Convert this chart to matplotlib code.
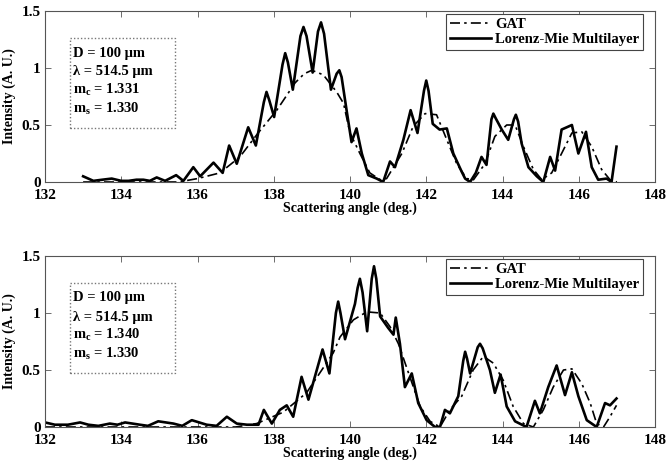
import matplotlib
matplotlib.use("Agg")
import matplotlib.pyplot as plt
from matplotlib.patches import Rectangle

plt.rcParams['font.family'] = ['Liberation Serif', 'DejaVu Serif']
plt.rcParams['font.weight'] = 'bold'
plt.rcParams['mathtext.fontset'] = 'custom'
plt.rcParams['mathtext.rm'] = 'Liberation Serif:bold'
plt.rcParams['mathtext.it'] = 'Liberation Serif:bold'
plt.rcParams['mathtext.bf'] = 'Liberation Serif:bold'

# ---------------- data: top panel (mc = 1.331) ----------------
top_mie_x = [133.0, 133.27, 133.5, 133.75, 134.0, 134.19, 134.4, 134.58, 134.75, 134.93,
             135.15, 135.44, 135.63, 135.89, 136.07, 136.42, 136.66, 136.83, 137.03, 137.33,
             137.53, 137.74, 137.81, 137.88, 138.01, 138.23, 138.30, 138.37, 138.50, 138.70,
             138.78, 138.86, 139.02, 139.16, 139.24, 139.32, 139.50, 139.65, 139.72, 139.78,
             139.91, 140.04, 140.17, 140.31, 140.48, 140.70, 140.87, 141.05, 141.18, 141.40,
             141.59, 141.77, 141.94, 142.00, 142.06, 142.17, 142.35, 142.54, 142.71, 142.93,
             143.02, 143.15, 143.30, 143.45, 143.58, 143.71, 143.76, 143.82, 143.98, 144.15,
             144.30, 144.35, 144.41, 144.50, 144.68, 144.90, 145.07, 145.25, 145.38, 145.55,
             145.82, 145.99, 146.19, 146.34, 146.51, 146.73, 146.86, 146.99]
top_mie_y = [0.05, 0.01, 0.02, 0.03, 0.01, 0.01, 0.02, 0.02, 0.01, 0.04,
             0.01, 0.06, 0.01, 0.13, 0.05, 0.17, 0.08, 0.32, 0.16, 0.48,
             0.32, 0.70, 0.79, 0.72, 0.57, 1.03, 1.13, 1.05, 0.81, 1.28,
             1.36, 1.28, 0.96, 1.32, 1.40, 1.30, 0.81, 0.95, 0.98, 0.92,
             0.63, 0.35, 0.47, 0.25, 0.06, 0.03, 0.0, 0.18, 0.13, 0.37,
             0.63, 0.43, 0.80, 0.89, 0.80, 0.51, 0.46, 0.47, 0.25, 0.09,
             0.03, 0.0, 0.08, 0.22, 0.15, 0.55, 0.60, 0.56, 0.46, 0.37,
             0.55, 0.59, 0.53, 0.34, 0.13, 0.05, 0.0, 0.22, 0.10, 0.46,
             0.50, 0.25, 0.44, 0.13, 0.02, 0.03, 0.0, 0.31]
top_gat_x = [133.0, 135.5, 136.0, 136.59, 137.11, 137.59, 138.08, 138.56, 138.8, 139.0,
             139.30, 139.65, 139.83, 140.0, 140.26, 140.52, 140.79, 140.96, 141.36, 141.66,
             141.97, 142.27, 142.54, 142.80, 143.06, 143.24, 143.54, 143.80, 144.11, 144.33,
             144.55, 144.81, 145.03, 145.29, 145.55, 145.82, 146.08, 146.34, 146.60, 146.82,
             147.0]
top_gat_y = [0.0, 0.0, 0.03, 0.08, 0.22, 0.43, 0.63, 0.87, 0.95, 0.98,
             0.94, 0.79, 0.69, 0.43, 0.25, 0.08, 0.02, 0.03, 0.25, 0.49,
             0.60, 0.59, 0.37, 0.16, 0.03, 0.02, 0.16, 0.40, 0.50, 0.50,
             0.31, 0.11, 0.02, 0.08, 0.25, 0.43, 0.44, 0.31, 0.11, 0.02,
             0.0]

# ---------------- data: bottom panel (mc = 1.340) ----------------
bot_mie_x = [132.0, 132.26, 132.6, 132.92, 133.14, 133.4, 133.70, 133.9, 134.10, 134.49,
             134.7, 134.97, 135.37, 135.6, 135.85, 136.24, 136.5, 136.77, 137.03, 137.3,
             137.60, 137.74, 137.95, 138.16, 138.34, 138.51, 138.73, 138.91, 139.28, 139.46,
             139.63, 139.69, 139.75, 139.87, 140.13, 140.20, 140.26, 140.33, 140.45, 140.57,
             140.63, 140.69, 140.79, 141.0, 141.14, 141.20, 141.31, 141.44, 141.62, 141.79,
             142.01, 142.23, 142.36, 142.49, 142.62, 142.84, 142.97, 143.02, 143.07, 143.15,
             143.35, 143.41, 143.48, 143.67, 143.80, 143.95, 144.11, 144.33, 144.63, 144.85,
             144.98, 145.20, 145.42, 145.64, 145.82, 145.99, 146.21, 146.47, 146.69, 146.82,
             146.99]
bot_mie_y = [0.04, 0.02, 0.02, 0.04, 0.02, 0.01, 0.03, 0.02, 0.04, 0.02,
             0.01, 0.05, 0.03, 0.01, 0.06, 0.02, 0.01, 0.09, 0.03, 0.02,
             0.02, 0.15, 0.03, 0.15, 0.19, 0.09, 0.44, 0.24, 0.68, 0.47,
             1.00, 1.10, 1.00, 0.77, 1.08, 1.22, 1.30, 1.18, 0.84, 1.30,
             1.41, 1.30, 0.97, 0.87, 0.81, 0.96, 0.73, 0.35, 0.47, 0.21,
             0.06, 0.0, 0.0, 0.15, 0.12, 0.27, 0.58, 0.66, 0.60, 0.47,
             0.70, 0.73, 0.69, 0.50, 0.30, 0.46, 0.18, 0.05, 0.0, 0.23,
             0.12, 0.35, 0.54, 0.28, 0.48, 0.27, 0.06, 0.0, 0.21, 0.19,
             0.25]
bot_gat_x = [132.0, 137.0, 137.55, 138.25, 138.86, 139.56, 139.74, 140.09, 140.44, 140.79,
             141.05, 141.27, 141.57, 141.84, 142.10, 142.36, 142.62, 142.93, 143.23, 143.50,
             143.76, 144.02, 144.28, 144.55, 144.81, 145.07, 145.33, 145.60, 145.82, 146.08,
             146.30, 146.47, 146.65, 146.82, 146.99]
bot_gat_y = [0.0, 0.0, 0.03, 0.13, 0.30, 0.65, 0.79, 0.94, 1.01, 1.0,
             0.88, 0.73, 0.44, 0.18, 0.05, 0.0, 0.15, 0.27, 0.50, 0.62,
             0.56, 0.41, 0.18, 0.03, 0.0, 0.15, 0.35, 0.50, 0.51, 0.38,
             0.21, 0.03, 0.0, 0.09, 0.19]

x_ticks = [132, 134, 136, 138, 140, 142, 144, 146, 148]
y_ticks = [0, 0.5, 1, 1.5]
y_ticklabels = ['0', '0.5', '1', '1.5']
x_label = 'Scattering angle (deg.)'
y_label = 'Intensity (A. U.)'
legend_labels = ['GAT', 'Lorenz-Mie Multilayer']
info_top = ['D = 100 μm', 'λ = 514.5 μm', 'm$_\\mathrm{c}$ = 1.331', 'm$_\\mathrm{s}$ = 1.330']
info_bot = ['D = 100 μm', 'λ = 514.5 μm', 'm$_\\mathrm{c}$ = 1.340', 'm$_\\mathrm{s}$ = 1.330']

W, H = 666, 461
fig = plt.figure(figsize=(W / 100, H / 100), dpi=100)

def px_axes(left, top, right, bottom):
    return fig.add_axes([left / W, 1 - bottom / H, (right - left) / W, (bottom - top) / H])

panels = [
    (px_axes(45, 11, 655, 182), top_gat_x, top_gat_y, top_mie_x, top_mie_y, info_top),
    (px_axes(45, 256, 655, 427), bot_gat_x, bot_gat_y, bot_mie_x, bot_mie_y, info_bot),
]

for ax, gx, gy, mx, my, info in panels:
    ax.plot(gx, gy, color='black', linestyle=(0, (6, 2.5, 1.5, 2.5)), linewidth=1.2,
            label=legend_labels[0])
    ax.plot(mx, my, color='black', linestyle='-', linewidth=1.9, solid_joinstyle='round',
            label=legend_labels[1])
    ax.set_xlim(132, 148)
    ax.set_ylim(0, 1.5)
    ax.set_xticks(x_ticks)
    ax.set_xticklabels([str(t) for t in x_ticks], fontsize=11, fontweight='bold')
    ax.set_yticks(y_ticks)
    ax.set_yticklabels(y_ticklabels, fontsize=11, fontweight='bold')
    ax.tick_params(axis='x', pad=5)
    ax.tick_params(axis='y', pad=3)
    ax.tick_params(direction='in', top=True, right=True, length=4, width=0.6,
                   color='#555555')
    for s in ax.spines.values():
        s.set_linewidth(0.8)
        s.set_color('#555555')
    ax.set_xlabel(x_label, fontsize=10, fontweight='bold', labelpad=0)
    ax.set_ylabel(y_label, fontsize=10, fontweight='bold', labelpad=4)
    leg = ax.legend(loc='upper right', bbox_to_anchor=(1 - 12 / 610, 1 - 3 / 171), borderaxespad=0,
                    fancybox=False, edgecolor='#444444', framealpha=1, handlelength=2.8,
                    handletextpad=0.3, borderpad=0.25, labelspacing=0.15,
                    prop={'family': 'Liberation Serif', 'weight': 'bold', 'size': 10.5})
    leg.get_frame().set_linewidth(0.8)
    # dotted info box
    box = Rectangle((25 / 610, 1 - 117 / 171), 105 / 610, 90 / 171, transform=ax.transAxes,
                    fill=False, edgecolor='#777777', linestyle=(0, (1, 1.5)), linewidth=1.0)
    ax.add_patch(box)
    ys = [1 - 42 / 171, 1 - 61 / 171, 1 - 79 / 171, 1 - 98 / 171]
    for t, yy in zip(info, ys):
        ax.text(28 / 610, yy, t, transform=ax.transAxes, fontsize=10.5, fontweight='bold',
                va='center', ha='left')

fig.savefig('out.png', dpi=100)
